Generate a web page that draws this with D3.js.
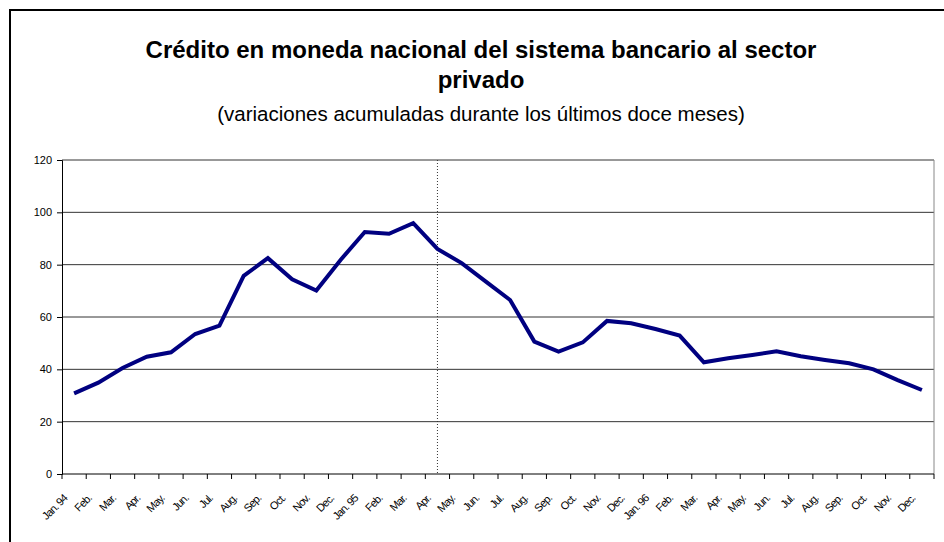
<!DOCTYPE html>
<html>
<head>
<meta charset="utf-8">
<script src="https://cdn.jsdelivr.net/npm/d3@7"></script>
<style>
  body { margin: 0; background: #fff; }
  svg { display: block; font-family: "Liberation Sans", Arial, sans-serif; }
</style>
</head>
<body>
<svg width="944" height="542"></svg>
<script>
// month labels, Jan. 94 .. Dec. 96
let months = ["Jan. 94", "Feb.", "Mar.", "Apr.", "May.", "Jun.", "Jul.", "Aug.", "Sep.", "Oct.", "Nov.", "Dec.",
              "Jan. 95", "Feb.", "Mar.", "Apr.", "May.", "Jun.", "Jul.", "Aug.", "Sep.", "Oct.", "Nov.", "Dec.",
              "Jan. 96", "Feb.", "Mar.", "Apr.", "May.", "Jun.", "Jul.", "Aug.", "Sep.", "Oct.", "Nov.", "Dec."];

// variaciones acumuladas (%)
let values = [30.8, 34.9, 40.5, 44.8, 46.5, 53.5, 56.7, 75.7, 82.5, 74.4, 70.1, 81.8,
              92.5, 91.8, 95.9, 86.0, 80.6, 73.5, 66.5, 50.6, 46.8, 50.3, 58.5, 57.6,
              55.4, 52.9, 42.7, 44.2, 45.5, 46.9, 45.0, 43.6, 42.3, 40.0, 35.9, 32.1];

let yTicks = [0, 20, 40, 60, 80, 100, 120];
let markIndex = 15; // Apr. 95

let svg = d3.select("svg");
let plotLeft = 62, plotRight = 934, plotTop = 160, plotBottom = 474;

// outer frame
svg.append("rect")
    .attr("x", 10).attr("y", 10)
    .attr("width", 960).attr("height", 560)
    .attr("fill", "none")
    .attr("stroke", "#000")
    .attr("stroke-width", 2);

svg.append("text")
    .attr("x", 481).attr("y", 58)
    .attr("text-anchor", "middle")
    .attr("font-size", 24).attr("font-weight", "bold")
    .text("Crédito en moneda nacional del sistema bancario al sector");
svg.append("text")
    .attr("x", 481).attr("y", 88)
    .attr("text-anchor", "middle")
    .attr("font-size", 24).attr("font-weight", "bold")
    .text("privado");
svg.append("text")
    .attr("x", 481).attr("y", 121)
    .attr("text-anchor", "middle")
    .attr("font-size", 20.5)
    .text("(variaciones acumuladas durante los últimos doce meses)");

let xScale = d3.scaleBand().domain(d3.range(months.length)).range([plotLeft, plotRight]);
let yScale = d3.scaleLinear().domain([0, 120]).range([plotBottom, plotTop]);

// grid lines
svg.append("g")
    .selectAll("line")
    .data(yTicks.slice(1))
    .enter().append("line")
    .attr("x1", plotLeft).attr("x2", plotRight)
    .attr("y1", function (d) { return yScale(d); })
    .attr("y2", function (d) { return yScale(d); })
    .attr("stroke", "#333");

// plot border on the right
svg.append("line")
    .attr("x1", plotRight).attr("x2", plotRight)
    .attr("y1", plotTop).attr("y2", plotBottom)
    .attr("stroke", "#888");

// y axis
let yAxis = svg.append("g")
    .attr("transform", "translate(" + plotLeft + ",0)")
    .call(d3.axisLeft(yScale).tickValues(yTicks).tickSize(5).tickPadding(5));
yAxis.select(".domain").attr("stroke", "#000");
yAxis.selectAll("text").attr("font-size", 11).attr("font-family", "Liberation Sans, Arial, sans-serif").attr("fill", "#000");

// x axis: ticks between categories
let xAxis = svg.append("g").attr("transform", "translate(0," + plotBottom + ")");
xAxis.append("line")
    .attr("x1", plotLeft).attr("x2", plotRight)
    .attr("stroke", "#000");
xAxis.selectAll(".tk")
    .data(d3.range(months.length + 1))
    .enter().append("line")
    .attr("class", "tk")
    .attr("x1", function (d) { return plotLeft + d * xScale.bandwidth(); })
    .attr("x2", function (d) { return plotLeft + d * xScale.bandwidth(); })
    .attr("y1", 0).attr("y2", 5)
    .attr("stroke", "#000");
xAxis.selectAll(".lbl")
    .data(months)
    .enter().append("text")
    .attr("class", "lbl")
    .attr("text-anchor", "end")
    .attr("font-size", 11)
    .attr("letter-spacing", -0.8)
    .attr("transform", function (d, i) {
        return "translate(" + (xScale(i) + xScale.bandwidth() / 2 - 6) + ",25) rotate(-45)";
    })
    .text(function (d) { return d; });

// dotted marker at Apr. 95
let mx = xScale(markIndex) + xScale.bandwidth() / 2;
svg.append("line")
    .attr("x1", mx).attr("x2", mx)
    .attr("y1", plotTop).attr("y2", plotBottom)
    .attr("stroke", "#333")
    .attr("stroke-dasharray", "1,2");

let line = d3.line()
    .x(function (d, i) { return xScale(i) + xScale.bandwidth() / 2; })
    .y(function (d) { return yScale(d); });

svg.append("path")
    .datum(values)
    .attr("fill", "none")
    .attr("stroke", "#000080")
    .attr("stroke-width", 4)
    .attr("stroke-linejoin", "miter")
    .attr("d", line);
</script>
</body>
</html>
